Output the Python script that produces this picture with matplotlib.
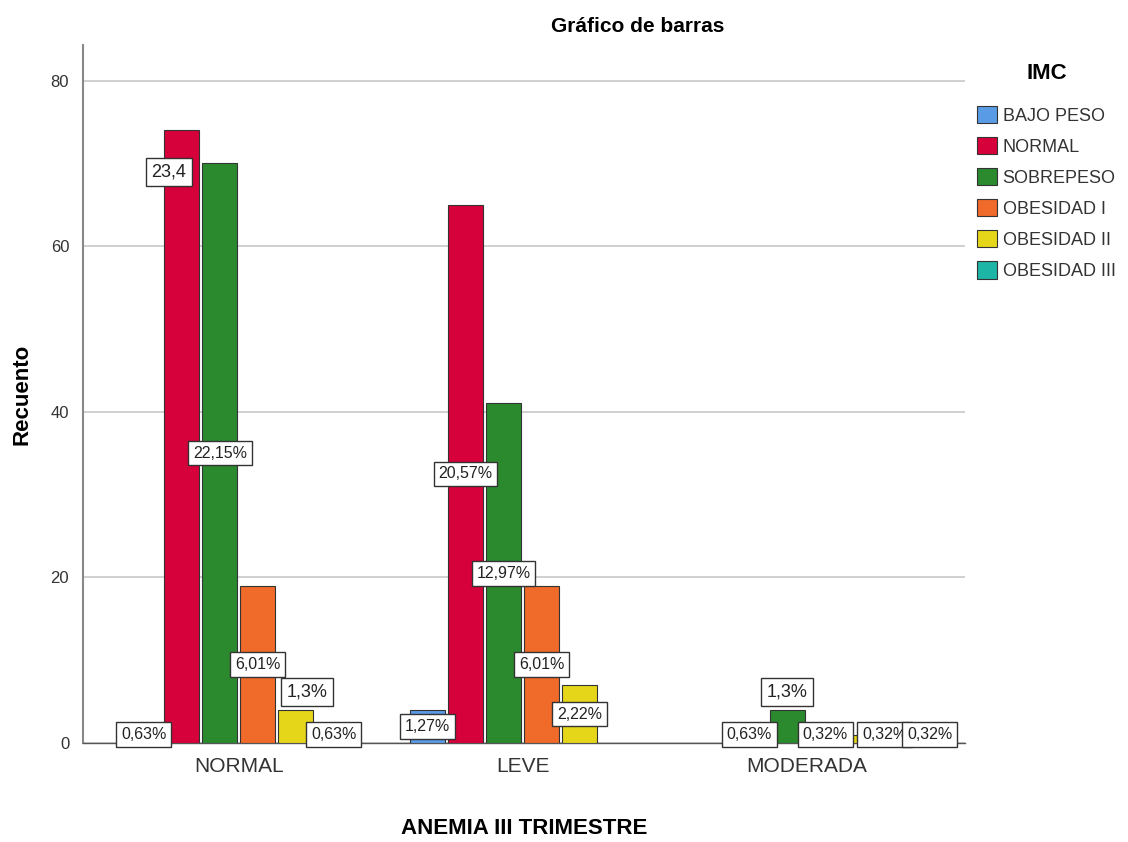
import matplotlib
matplotlib.use('Agg')
import matplotlib.pyplot as plt
import numpy as np
from matplotlib.patches import Patch

plt.rcParams['font.family'] = ['Liberation Sans', 'DejaVu Sans']

groups = ['NORMAL', 'LEVE', 'MODERADA']
series = ['BAJO PESO', 'NORMAL', 'SOBREPESO', 'OBESIDAD I', 'OBESIDAD II', 'OBESIDAD III']
colors = ['#5a9be6', '#d6003a', '#2b8a2e', '#f06a2a', '#e6d61a', '#1db5a5']

bajo_peso = [2, 4, 0]
normal = [74, 65, 2]
sobrepeso = [70, 41, 4]
obesidad1 = [19, 19, 1]
obesidad2 = [4, 7, 1]
obesidad3 = [2, 0, 1]
values = [bajo_peso, normal, sobrepeso, obesidad1, obesidad2, obesidad3]

# data labels per series, per group ('' = none)
lab_bajo = ['0,63%', '1,27%', '']
lab_normal = ['23,4', '20,57%', '0,63%']
lab_sobre = ['22,15%', '12,97%', '1,3%']
lab_ob1 = ['6,01%', '6,01%', '0,32%']
lab_ob2 = ['1,3%', '2,22%', '0,32%']
lab_ob3 = ['0,63%', '', '0,32%']
labels = [lab_bajo, lab_normal, lab_sobre, lab_ob1, lab_ob2, lab_ob3]

fig = plt.figure(figsize=(11.28, 8.42), dpi=100)
ax = fig.add_axes([0.0736, 0.1176, 0.782, 0.829])

x = np.arange(len(groups))
pitch = 0.134
width = 0.123
for i, (name, vals, col) in enumerate(zip(series, values, colors)):
    xs = x + (i - 2.5) * pitch
    v = np.array(vals, dtype=float)
    ax.bar(xs[v > 0], v[v > 0], width, color=col, edgecolor='#333333', linewidth=0.8,
           label=name, zorder=3)

handles = [Patch(facecolor=c, edgecolor='#333333', linewidth=0.8) for c in colors]

# labels
for i in range(len(series)):
    for j in range(len(groups)):
        t = labels[i][j]
        if not t:
            continue
        v = values[i][j]
        xc = x[j] + (i - 2.5) * pitch
        big = t in ('1,3%', '23,4')
        if t == '23,4':
            yc = v - 5
            xc -= 0.045
        elif t == '1,3%':
            yc = v + 2.2
            if j == 0:
                xc += 0.04
        elif v <= 2:
            yc = 1.0
        else:
            yc = v / 2
        if j == 2 and i == 4:
            xc += 0.075
        if j == 2 and i == 5:
            xc += 0.10
        ax.text(xc, yc, t, ha='center', va='center', fontsize=13 if big else 11.5,
                color='#222222', zorder=5,
                bbox=dict(boxstyle='square,pad=0.3', facecolor='white', edgecolor='#333333',
                          linewidth=1.0))

ax.set_xlim(-0.549, 2.56)
ax.set_ylim(0, 84.3)
ax.set_yticks([0, 20, 40, 60, 80])
ax.set_xticks(x)
ax.set_xticklabels(groups, fontsize=15, color='#333333')
ax.tick_params(axis='y', labelsize=12, colors='#333333', length=0, pad=10)
ax.tick_params(axis='x', length=0, pad=10)
ax.grid(axis='y', color='#c8c8c8', linewidth=1.2, zorder=0)
for s in ['top', 'right']:
    ax.spines[s].set_visible(False)
ax.spines['left'].set_color('#888888')
ax.spines['left'].set_linewidth(1.5)
ax.spines['bottom'].set_color('#555555')
ax.spines['bottom'].set_linewidth(1.0)

ax.set_ylabel('Recuento', fontsize=16, fontweight='bold')
ax.yaxis.set_label_coords(-0.057, 0.5)
ax.set_xlabel('ANEMIA III TRIMESTRE', fontsize=16, fontweight='bold', labelpad=30)
fig.text(0.565, 0.968, 'Gráfico de barras', ha='center', va='center', fontsize=15,
         fontweight='bold')

leg = fig.legend(handles, series, title='IMC', loc='upper left',
                 bbox_to_anchor=(0.852, 0.945), frameon=False, fontsize=13,
                 handlelength=1.1, handleheight=1.1, handletextpad=0.3,
                 labelspacing=0.68, labelcolor='#333333')
leg.get_title().set_fontweight('bold')
leg.get_title().set_fontsize(16)
leg._legend_box.sep = 16

fig.savefig('out.png', dpi=100)
